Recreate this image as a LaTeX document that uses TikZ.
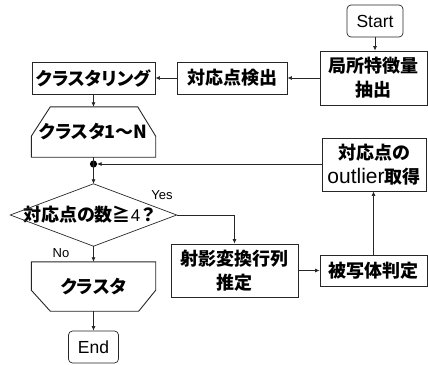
\documentclass[tikz,border=0pt]{standalone}
\usepackage{fontspec}
\setmainfont{Liberation Sans}
\newfontfamily\jp{Noto Sans CJK JP}[RawFeature={+palt}]
\usetikzlibrary{arrows.meta}
\tikzset{
  box/.style={draw=black!85, line width=0.9pt, inner sep=0pt, align=center,
    font=\jp\bfseries\fontsize{18}{24}\selectfont},
  term/.style={draw=black!85, line width=0.7pt, rounded corners=4pt, inner sep=0pt,
    font=\fontsize{17.5}{20}\selectfont},
  ghost/.style={inner sep=0pt, align=center, font=\jp\bfseries\fontsize{18}{24}\selectfont},
  shp/.style={draw=black!85, line width=0.9pt},
  arr/.style={draw=black!85, line width=0.7pt, -{Latex[length=4.5pt,width=4pt]}},
  ln/.style={draw=black!85, line width=0.7pt},
  lbl/.style={font=\fontsize{13}{15}\selectfont, inner sep=0pt}
}
\begin{document}
\begin{tikzpicture}[x=1pt,y=-1pt]
\useasboundingbox (0,0) rectangle (428,364);
% nodes
\node[term, minimum width=56pt, minimum height=32pt] (start) at (375,21) {Start};
\node[box, minimum width=107pt, minimum height=54pt] (feat) at (373.5,78) {局所特徴量\\抽出};
\node[box, minimum width=110pt, minimum height=32pt] (det) at (232,78) {対応点検出};
\node[box, minimum width=123pt, minimum height=32pt] (clus) at (93.5,78) {クラスタリング};
\node[ghost, minimum width=124pt, minimum height=50pt] (ls) at (93.5,132) {クラスタ1～N};
\draw[shp] ([yshift=21pt]ls.south west) -- (ls.south west) -- (ls.south east) -- ([yshift=21pt]ls.south east)
  -- ([xshift=-18pt]ls.north east) -- ([xshift=19pt]ls.north west) -- cycle;
\coordinate (dot) at (93.5,164);
\fill[black] (dot) circle (3.6pt);
\node[ghost, minimum width=166pt, minimum height=62pt] (dec) at (93.5,215) {};
\node[ghost] (dectext) at (89,215) {対応点の数≧\hbox{\normalfont\mdseries\fontsize{17}{20}\selectfont 4\kern2pt}？};
\draw[shp, line width=0.7pt] (dec.north) -- (dec.east) -- (dec.south) -- (dec.west) -- cycle;
\node[box, minimum width=127pt, minimum height=53pt] (proj) at (234.5,270.5) {射影変換行列\\推定};
\node[box, minimum width=107pt, minimum height=31pt] (subj) at (373.5,270.5) {被写体判定};
\node[box, minimum width=104pt, minimum height=53pt] (outl) at (374,164.5) {対応点の\\{\normalfont\mdseries\fontsize{21}{24}\selectfont outlier}取得};
\node[ghost, minimum width=124pt, minimum height=49pt] (lend) at (93.5,286.5) {クラスタ};
\draw[shp] (lend.north west) -- (lend.north east) -- ([yshift=21pt]lend.south east)
  -- ([xshift=-17pt]lend.south east) -- ([xshift=19pt]lend.south west) -- ([yshift=21pt]lend.south west) -- cycle;
\node[term, minimum width=50pt, minimum height=32pt] (end) at (93.5,347) {End};
% connectors
\draw[arr] (start.south) -- (start.south |- feat.north);
\draw[arr] (feat.west |- det.east) -- (det.east);
\draw[arr] (det.west) -- (clus.east);
\draw[arr] (clus.south) -- (ls.north);
\draw[ln] (ls.south) -- (dot);
\draw[arr] (dot) -- (dec.north);
\draw[arr] (outl.west |- dot) -- ([xshift=3.6pt]dot);
\draw[arr] (dec.east) -| (proj.north);
\draw[arr] (proj.east |- subj.west) -- (subj.west);
\draw[arr] (subj.north) -- (subj.north |- outl.south);
\draw[arr] (dec.south) -- (lend.north);
\draw[arr] (lend.south) -- (end.north);
% labels
\node[lbl] (yes) at (162,195) {Yes};
\node[lbl] (no) at (61,253) {No};
\end{tikzpicture}
\end{document}
